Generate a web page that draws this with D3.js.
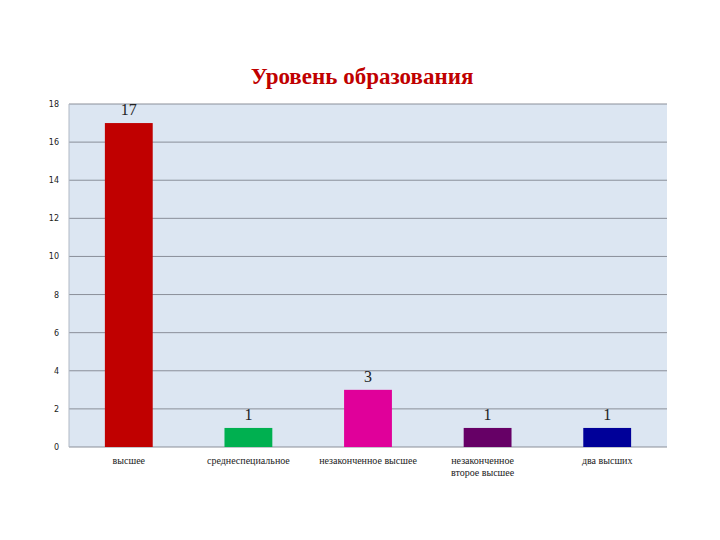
<!DOCTYPE html><html><head><meta charset="utf-8"><script src="https://cdn.jsdelivr.net/npm/d3@7"></script>
<style>body{margin:0;background:#fff}</style></head><body><svg id="c" width="720" height="540"></svg>
<script>
const categories=[["высшее"],["среднеспециальное"],["незаконченное высшее"],["незаконченное","второе высшее"],["два высших"]];
const values=[17,1,3,1,1];
const colors=["#C00000","#00B050","#E0009A","#660066","#000099"];
const ticks=[0,2,4,6,8,10,12,14,16,18];
const svg=d3.select("#c");
const m={l:69,r:667,t:104,b:447};
const x=d3.scaleBand().domain(d3.range(values.length)).range([m.l,m.r]).paddingInner(0.6).paddingOuter(0.3);
const y=d3.scaleLinear().domain([0,18]).range([m.b,m.t]);
svg.append("rect").attr("x",m.l).attr("y",m.t).attr("width",m.r-m.l).attr("height",m.b-m.t).attr("fill","#DCE6F2");
svg.selectAll("line.g").data(ticks).join("line").attr("x1",m.l).attr("x2",m.r).attr("y1",d=>y(d)).attr("y2",d=>y(d)).attr("stroke","#8a8f99").attr("stroke-width",1);
svg.append("line").attr("x1",m.l).attr("x2",m.l).attr("y1",m.t).attr("y2",m.b).attr("stroke","#b0b8c4");
svg.selectAll("text.t").data(ticks).join("text").attr("x",m.l-10).attr("y",d=>y(d)+3).attr("text-anchor","end").attr("font-family","DejaVu Sans").attr("font-size",8).attr("fill","#222").text(d=>d);
svg.selectAll("rect.b").data(values).join("rect").attr("x",(d,i)=>x(i)).attr("width",x.bandwidth()).attr("y",d=>y(d)).attr("height",d=>m.b-y(d)).attr("fill",(d,i)=>colors[i]);
svg.selectAll("text.v").data(values).join("text").attr("x",(d,i)=>x(i)+x.bandwidth()/2).attr("y",d=>y(d)-8).attr("text-anchor","middle").attr("font-family","Liberation Serif").attr("font-size",16).attr("fill","#222").text(d=>d);
categories.forEach((lines,i)=>{const t=svg.append("text").attr("font-family","Liberation Serif").attr("font-size",10).attr("fill","#222");
lines.forEach((s,j)=>t.append("tspan").attr("x",x(i)+x.bandwidth()/2+(lines.length>1?-5:0)).attr("y",464+j*12).attr("text-anchor","middle").text(s));});
svg.append("text").attr("x",362).attr("y",84).attr("text-anchor","middle").attr("font-family","Liberation Serif").attr("font-size",23).attr("font-weight","bold").attr("fill","#C00000").text("Уровень образования");
</script></body></html>
